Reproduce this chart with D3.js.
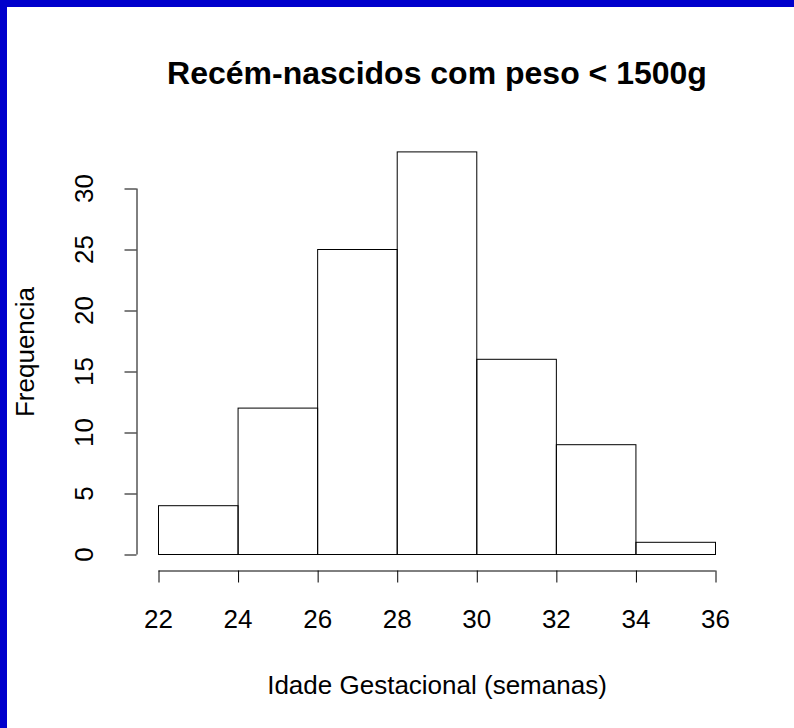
<!DOCTYPE html>
<html><head><meta charset="utf-8">
<script src="https://cdn.jsdelivr.net/npm/d3@7"></script>
<style>html,body{margin:0;padding:0;background:#fff;}svg{display:block;}</style>
</head><body>
<script>
const breaks = [22, 24, 26, 28, 30, 32, 34, 36];
const counts = [4, 12, 25, 33, 16, 9, 1];
const xTicks = [22, 24, 26, 28, 30, 32, 34, 36];
const yTicks = [0, 5, 10, 15, 20, 25, 30];
const title = "Recém-nascidos com peso < 1500g";
const xLabel = "Idade Gestacional (semanas)";
const yLabel = "Frequencia";

const W = 794, H = 728;
const svg = d3.select("body").append("svg").attr("width", W).attr("height", H);
svg.append("rect").attr("width", W).attr("height", H).attr("fill", "#0000cc");
svg.append("rect").attr("x", 7).attr("y", 7).attr("width", W - 7).attr("height", H - 7).attr("fill", "#fff");

const font = "'Liberation Sans', Arial, Helvetica, sans-serif";
const x = d3.scaleLinear().domain([22, 36]).range([158, 715]);
const y = d3.scaleLinear().domain([0, 30]).range([554, 188]);

const bins = counts.map((c, i) => ({x0: breaks[i], x1: breaks[i + 1], c}));
svg.append("g").selectAll("rect").data(bins).join("rect")
  .attr("x", d => x(d.x0) + 0.5).attr("y", d => y(d.c) + 0.5)
  .attr("width", d => x(d.x1) - x(d.x0)).attr("height", d => y(0) - y(d.c))
  .attr("fill", "none").attr("stroke", "#000").attr("stroke-width", 1);

// x axis
const xa = svg.append("g").attr("transform", "translate(0,570.5)")
  .call(d3.axisBottom(x).tickValues(xTicks).tickSize(12).tickSizeOuter(0));
// y axis
const ya = svg.append("g").attr("transform", "translate(136.5,0)")
  .call(d3.axisLeft(y).tickValues(yTicks).tickSize(12).tickSizeOuter(0));
[xa, ya].forEach(a => {
  a.select(".domain").attr("stroke", "#000");
  a.selectAll(".tick line").attr("stroke", "#000");
  a.selectAll(".tick text").attr("font-family", font).attr("font-size", 26).attr("fill", "#000");
});
xa.selectAll(".tick line").attr("transform", "translate(0.5,0)");
xa.selectAll(".tick text").attr("dy", null).attr("y", 57.5);
ya.selectAll(".tick line").attr("transform", "translate(0,0.5)");
ya.selectAll(".tick text").attr("text-anchor", "middle").attr("dy", null)
  .attr("x", null).attr("y", null)
  .attr("transform", "translate(-43.5,0) rotate(-90)");

svg.append("text").attr("x", 437).attr("y", 84).attr("text-anchor", "middle")
  .attr("font-family", font).attr("font-weight", "bold").attr("font-size", 32).text(title);
svg.append("text").attr("x", 437).attr("y", 694).attr("text-anchor", "middle")
  .attr("font-family", font).attr("font-size", 26).text(xLabel);
svg.append("text").attr("transform", "translate(34,352) rotate(-90)").attr("text-anchor", "middle")
  .attr("font-family", font).attr("font-size", 26).text(yLabel);
</script>
</body></html>
